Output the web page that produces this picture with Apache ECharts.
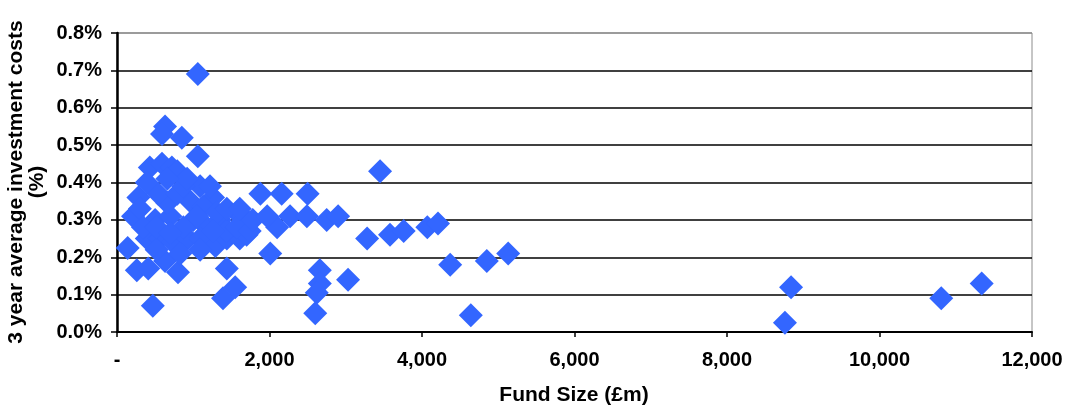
<!DOCTYPE html>
<html>
<head>
<meta charset="utf-8">
<script src="https://cdn.jsdelivr.net/npm/echarts@6/dist/echarts.min.js"></script>
<style>
html,body{margin:0;padding:0;background:#fff;}
#chart{width:1073px;height:405px;}
</style>
</head>
<body>
<div id="chart"></div>
<script>
// Fund size (£m)
var fundSize = [
  1060, 630, 590, 850, 1060, 430, 590, 720, 790, 1090,
  1260, 1880, 2160, 2500, 280, 210, 300, 500, 700, 960,
  1000, 1180, 1350, 1570, 1700, 140, 390, 560, 730, 930,
  1090, 1290, 1440, 1610, 1700, 260, 410, 630, 800, 470,
  1440, 1390, 1550, 2010, 2660, 2660, 2620, 2600, 3030, 660,
  540, 790, 870, 1130, 1310, 1440, 1090, 830, 520, 340,
  520, 870, 1260, 1570, 1740, 1220, 1440, 920, 660, 390,
  1050, 700, 2270, 2490, 2750, 2900, 2100, 1780, 1970, 3450,
  3280, 3580, 3760, 4070, 4210, 4370, 4850, 5130, 4640, 8840,
  8760, 10810, 11340, 1610
];
// 3 year average investment costs (%)
var costPct = [
  0.69, 0.55, 0.53, 0.52, 0.47, 0.44, 0.45, 0.44, 0.43, 0.39,
  0.36, 0.37, 0.37, 0.37, 0.36, 0.31, 0.33, 0.30, 0.31, 0.35,
  0.30, 0.28, 0.30, 0.32, 0.30, 0.225, 0.25, 0.25, 0.24, 0.25,
  0.25, 0.23, 0.25, 0.25, 0.26, 0.165, 0.17, 0.19, 0.16, 0.07,
  0.17, 0.09, 0.12, 0.21, 0.165, 0.13, 0.105, 0.05, 0.14, 0.345,
  0.37, 0.37, 0.39, 0.335, 0.32, 0.27, 0.22, 0.21, 0.22, 0.28,
  0.28, 0.28, 0.27, 0.28, 0.27, 0.39, 0.33, 0.41, 0.41, 0.40,
  0.31, 0.265, 0.31, 0.31, 0.30, 0.31, 0.28, 0.30, 0.31, 0.43,
  0.25, 0.26, 0.27, 0.28, 0.29, 0.18, 0.19, 0.21, 0.045, 0.12,
  0.025, 0.09, 0.13, 0.33
];
var xTicks = { min: 0, max: 12000, interval: 2000 };
var yTicks = { min: 0, max: 0.8, interval: 0.1 };
var xTitle = 'Fund Size (£m)';
var yTitle = '3 year average investment costs\n(%)';

var points = fundSize.map(function (x, i) { return [x, costPct[i]]; });

var chart = echarts.init(document.getElementById('chart'), null, { renderer: 'canvas' });
var FONT = '"Liberation Sans", Arial, sans-serif';
var gridColors = ['#000', '#000', '#000', '#000', '#000', '#000', '#000', '#000', '#8c8c8c'];
chart.setOption({
  animation: false,
  backgroundColor: '#fff',
  grid: { left: 117, right: 41, top: 33, bottom: 73, show: true, borderColor: '#8c8c8c', borderWidth: 1, backgroundColor: 'transparent' },
  xAxis: {
    type: 'value', min: xTicks.min, max: xTicks.max, interval: xTicks.interval,
    axisLine: { show: true, onZero: false, lineStyle: { color: '#000', width: 2 } },
    axisTick: { show: true, length: 5, lineStyle: { color: '#000', width: 1.5 } },
    splitLine: { show: false },
    axisLabel: {
      margin: 18, color: '#000', fontFamily: FONT, fontWeight: 'bold', fontSize: 20,
      formatter: function (v) { return v === 0 ? '-' : v.toLocaleString('en-GB'); }
    }
  },
  yAxis: {
    type: 'value', min: yTicks.min, max: yTicks.max, interval: yTicks.interval,
    axisLine: { show: true, onZero: false, lineStyle: { color: '#000', width: 2.5 } },
    axisTick: { show: true, length: 6, lineStyle: { color: '#000', width: 1.5 } },
    splitLine: { show: true, lineStyle: { color: gridColors, width: 1.5 } },
    axisLabel: {
      margin: 15, color: '#000', fontFamily: FONT, fontWeight: 'bold', fontSize: 20,
      formatter: function (v) { return v.toFixed(1) + '%'; }
    }
  },
  graphic: [
    {
      type: 'text', x: 27, y: 182, rotation: Math.PI / 2,
      style: { text: yTitle, fill: '#000', font: 'bold 21px ' + FONT, textAlign: 'center', textVerticalAlign: 'middle', lineHeight: 21 }
    },
    {
      type: 'text', x: 574, y: 395,
      style: { text: xTitle, fill: '#000', font: 'bold 21px ' + FONT, textAlign: 'center', textVerticalAlign: 'middle' }
    }
  ],
  series: [{
    type: 'scatter',
    symbol: 'diamond',
    symbolSize: [24, 24],
    itemStyle: { color: '#3366FF', opacity: 1 },
    data: points,
    z: 3
  }]
});
</script>
</body>
</html>
